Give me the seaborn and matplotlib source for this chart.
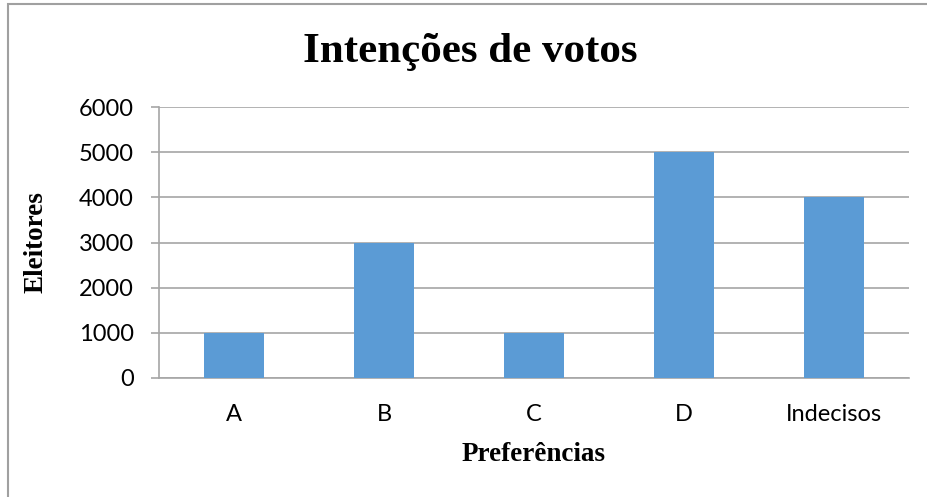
import matplotlib
matplotlib.use("Agg")
import matplotlib.pyplot as plt
import seaborn as sns
import pandas as pd
from matplotlib.patches import Rectangle

# data
categories = ["A", "B", "C", "D", "Indecisos"]
eleitores = [1000, 3000, 1000, 5000, 4000]
y_ticks = [0, 1000, 2000, 3000, 4000, 5000, 6000]

df = pd.DataFrame({"Preferências": categories, "Eleitores": eleitores})

sns.set_style("white")
plt.rcParams["font.family"] = ["Lato", "DejaVu Sans"]
plt.rcParams["text.color"] = "black"
plt.rcParams["xtick.color"] = "black"
plt.rcParams["ytick.color"] = "black"
plt.rcParams["axes.labelcolor"] = "black"

fig = plt.figure(figsize=(9.27, 4.97), dpi=100)
ax = fig.add_axes([159 / 927, 1 - 378 / 497, 750 / 927, 271 / 497])

sns.barplot(data=df, x="Preferências", y="Eleitores", color="#5B9BD5",
            width=0.4, saturation=1, linewidth=0, ax=ax, zorder=3)

ax.set_ylim(0, 6000)
ax.set_xlim(-0.5, 4.5)
ax.set_yticks(y_ticks)
ax.yaxis.grid(True, color="#A6A6A6", linewidth=1.2, zorder=0)
ax.set_axisbelow(True)

for s in ["top", "right"]:
    ax.spines[s].set_visible(False)
for s in ["left", "bottom"]:
    ax.spines[s].set_color("#A6A6A6")
    ax.spines[s].set_linewidth(1.2)

ax.tick_params(axis="y", which="major", length=6, width=1.2, color="#A6A6A6",
               labelcolor="black", labelsize=17, pad=12, left=True)
ax.tick_params(axis="x", length=0, labelsize=17, labelcolor="black", pad=19)

serif = ["Liberation Serif", "DejaVu Serif"]
ax.set_xlabel("Preferências", family=serif, fontweight="bold", fontsize=19.5, labelpad=12)
ax.set_ylabel("Eleitores", family=serif, fontweight="bold", fontsize=19.5, labelpad=22)
fig.text(0.507, 1 - 52 / 497, "Intenções de votos", family=serif, fontweight="bold",
         fontsize=31, ha="center", va="center", color="black")

# outer chart border
fig.patches.append(Rectangle((8 / 927, -0.1), 1.1, 1 - 4 / 497 + 0.1,
                             transform=fig.transFigure, fill=False,
                             edgecolor="#A0A0A0", linewidth=1.5))

fig.savefig("out.png", dpi=100)
